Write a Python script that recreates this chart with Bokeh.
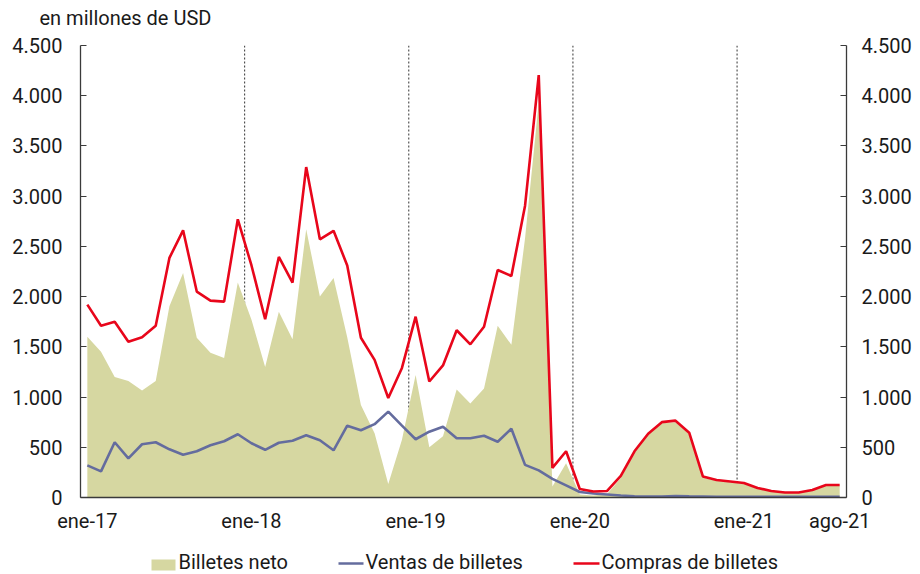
from bokeh.plotting import figure
from bokeh.models import Range1d, LinearAxis, FixedTicker, Span, Title, ColumnDataSource
from bokeh.layouts import column
from bokeh.core.properties import value
from bokeh.embed import file_html
from bokeh.resources import INLINE

months = ["ene-17","feb-17","mar-17","abr-17","may-17","jun-17","jul-17","ago-17","sep-17","oct-17","nov-17","dic-17",
          "ene-18","feb-18","mar-18","abr-18","may-18","jun-18","jul-18","ago-18","sep-18","oct-18","nov-18","dic-18",
          "ene-19","feb-19","mar-19","abr-19","may-19","jun-19","jul-19","ago-19","sep-19","oct-19","nov-19","dic-19",
          "ene-20","feb-20","mar-20","abr-20","may-20","jun-20","jul-20","ago-20","sep-20","oct-20","nov-20","dic-20",
          "ene-21","feb-21","mar-21","abr-21","may-21","jun-21","jul-21","ago-21"]

compras = [1920, 1710, 1750, 1550, 1595, 1710, 2385, 2660, 2050, 1960, 1950, 2770,
           2310, 1775, 2395, 2140, 3290, 2570, 2655, 2310, 1590, 1370, 990, 1290,
           1800, 1155, 1315, 1665, 1525, 1700, 2265, 2205, 2905, 4205, 295, 460,
           85, 60, 65, 215, 460, 635, 750, 765, 645, 210, 175, 160,
           145, 95, 65, 50, 50, 75, 125, 125]

ventas = [320, 260, 550, 390, 530, 550, 480, 425, 460, 520, 560, 630,
          540, 475, 545, 565, 620, 570, 470, 715, 670, 730, 855, 715,
          580, 655, 705, 590, 590, 615, 555, 685, 325, 270, 185, 120,
          55, 40, 30, 20, 12, 10, 10, 15, 12, 10, 8, 8,
          7, 7, 6, 6, 6, 6, 6, 6]

neto = [1600, 1450, 1200, 1160, 1065, 1160, 1905, 2235, 1590, 1440, 1390, 2140,
        1770, 1300, 1850, 1575, 2670, 2000, 2185, 1595, 920, 640, 135, 575,
        1220, 500, 610, 1075, 935, 1085, 1710, 1520, 2580, 3935, 110, 340,
        30, 20, 35, 195, 448, 625, 740, 750, 633, 200, 167, 152,
        138, 88, 59, 44, 44, 69, 119, 119]

x_tick_labels = ["ene-17", "ene-18", "ene-19", "ene-20", "ene-21", "ago-21"]
y_ticks = [0, 500, 1000, 1500, 2000, 2500, 3000, 3500, 4000, 4500]
y_tick_labels = ["0", "500", "1.000", "1.500", "2.000", "2.500", "3.000", "3.500", "4.000", "4.500"]
year_starts = ["ene-18", "ene-19", "ene-20", "ene-21"]
legend_labels = ["Billetes neto", "Ventas de billetes", "Compras de billetes"]

FONT = "Roboto"
FS = "20px"
TXT = "#1a1a1a"
AX = "#3a3a3a"
C_AREA = "#D6D7A1"
C_VENTAS = "#646C9E"
C_COMPRAS = "#E8061B"

idx = list(range(len(months)))
src = ColumnDataSource(dict(x=idx, compras=compras, ventas=ventas, neto=neto, zero=[0] * len(idx)))

p = figure(frame_width=766, frame_height=452, output_backend="svg", toolbar_location=None,
           x_range=Range1d(-0.5, len(months) - 0.5), y_range=Range1d(0, 4500),
           min_border_left=80, min_border_right=72, min_border_top=45, min_border_bottom=36)
p.outline_line_color = None
p.xgrid.visible = False
p.ygrid.visible = False
p.background_fill_color = "white"
p.border_fill_color = "white"

for m in year_starts:
    p.add_layout(Span(location=months.index(m) - 0.5, dimension="height", line_color="#333333",
                      line_width=1, line_dash="2 2", level="underlay"))

p.varea(x="x", y1="zero", y2="neto", source=src, fill_color=C_AREA)
p.line(x="x", y="ventas", source=src, line_color=C_VENTAS, line_width=2.6)
p.line(x="x", y="compras", source=src, line_color=C_COMPRAS, line_width=2.6)

xt = [months.index(m) for m in x_tick_labels]
p.xaxis.ticker = FixedTicker(ticks=xt)
p.xaxis.major_label_overrides = {t: l for t, l in zip(xt, x_tick_labels)}
p.xaxis.major_tick_line_color = None
p.xaxis.minor_tick_line_color = None
p.xaxis.axis_line_color = AX
p.xaxis.axis_line_width = 1.3
p.xaxis.major_label_text_font = FONT
p.xaxis.major_label_text_font_size = FS
p.xaxis.major_label_text_color = TXT
p.xaxis.major_label_standoff = 5

def style_y(ax, standoff):
    ax.ticker = FixedTicker(ticks=y_ticks)
    ax.major_label_overrides = {t: l for t, l in zip(y_ticks, y_tick_labels)}
    ax.major_tick_in = 6
    ax.major_tick_out = 0
    ax.major_tick_line_color = AX
    ax.minor_tick_line_color = None
    ax.axis_line_color = AX
    ax.axis_line_width = 1.3
    ax.major_label_text_font = FONT
    ax.major_label_text_font_size = FS
    ax.major_label_text_color = TXT
    ax.major_label_standoff = standoff

for ax in p.yaxis:
    style_y(ax, 18)
ry = LinearAxis()
style_y(ry, 15)
p.add_layout(ry, "right")

# spacer between frame and title
p.add_layout(Title(text=" ", text_font_size="1px", standoff=13), "above")
p.title = Title(text="en millones de USD", align="left", offset=-41,
                text_font=FONT, text_font_size=FS, text_font_style="normal", text_color=TXT,
                standoff=0)

# legend strip: its frame is aligned with the main frame (page x 80..846)
LH = 40
lg = figure(width=918, height=LH, output_backend="svg", toolbar_location=None,
            x_range=Range1d(80, 846), y_range=Range1d(0, LH), x_axis_type=None, y_axis_type=None,
            min_border_left=0, min_border_right=0, min_border_top=0, min_border_bottom=0)
lg.outline_line_color = None
lg.background_fill_color = "white"
lg.border_fill_color = "white"
lg.rect(x=[163], y=[10.5], width=24, height=11, fill_color=C_AREA, line_color=None)
lg.segment(x0=[338], y0=[12], x1=[363], y1=[12], line_color=C_VENTAS, line_width=2.6)
lg.segment(x0=[573], y0=[12], x1=[599], y1=[12], line_color=C_COMPRAS, line_width=2.6)
lg.text(x=[178, 365, 601], y=[14] * 3, text=legend_labels, text_font=value(FONT),
        text_font_size=FS, text_color=TXT, text_align="left", text_baseline="middle")

layout = column(p, lg, spacing=0)
open("out.html", "w").write(file_html(layout, INLINE))
